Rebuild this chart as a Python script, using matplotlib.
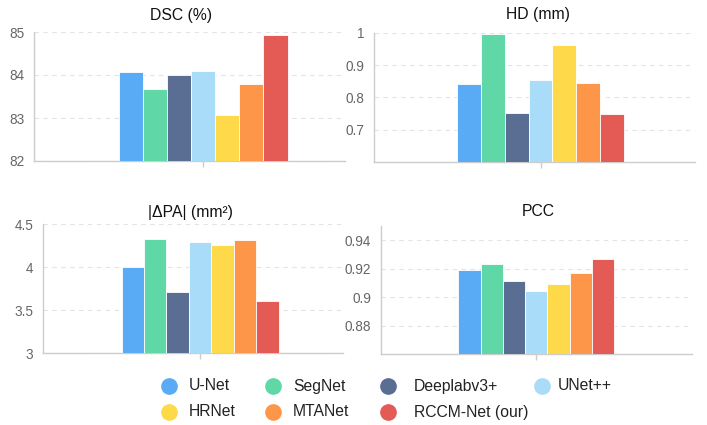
import matplotlib.pyplot as plt
from matplotlib.lines import Line2D

plt.rcParams['font.family'] = ['Liberation Sans', 'DejaVu Sans']

models = ['U-Net', 'SegNet', 'Deeplabv3+', 'UNet++', 'HRNet', 'MTANet', 'RCCM-Net (our)']
colors = ['#5aabf5', '#5fd7a7', '#5a6e94', '#a8dcf8', '#fed94a', '#fe964a', '#e45a54']

dsc = [84.06, 83.67, 83.99, 84.09, 83.07, 83.80, 84.93]
hd = [0.840, 0.998, 0.750, 0.854, 0.962, 0.845, 0.747]
dpa = [4.00, 4.33, 3.71, 4.29, 4.255, 4.315, 3.605]
pcc = [0.919, 0.923, 0.911, 0.904, 0.909, 0.917, 0.927]

titles = ['DSC (%)', 'HD (mm)', '|ΔPA| (mm²)', 'PCC']
ylims = [(82, 85), (0.6, 1.0), (3, 4.5), (0.86, 0.95)]
yticks = [[82, 83, 84, 85], [0.7, 0.8, 0.9, 1.0], [3, 3.5, 4, 4.5], [0.88, 0.9, 0.92, 0.94]]
yticklabels = [['82', '83', '84', '85'], ['0.7', '0.8', '0.9', '1'],
               ['3', '3.5', '4', '4.5'], ['0.88', '0.9', '0.92', '0.94']]
data = [dsc, hd, dpa, pcc]

W, H = 707, 425
# axes boxes in pixels: left, top, right, bottom
boxes = [(34, 32, 345, 161), (374, 33, 695, 161.7), (43, 224.3, 343, 353.3), (380.7, 226, 691.7, 354)]
xright = [0.84, 0.927, 0.91, 1.0]
title_pos = [(0.473, 1.13), (0.511, 1.14), (0.49, 1.093), (0.506, 1.117)]

fig = plt.figure(figsize=(W / 100, H / 100), dpi=100)

n = len(models)
bw = 1.0 / n
for i in range(4):
    l, t, r, b = boxes[i]
    ax = fig.add_axes([l / W, 1 - b / H, (r - l) / W, (b - t) / H])
    for j in range(n):
        x = -0.5 + bw * (j + 0.5)
        ax.bar(x, data[i][j] - ylims[i][0], bw, bottom=ylims[i][0], color=colors[j],
               edgecolor='white', linewidth=0.6, zorder=3)
    ax.set_xlim(-1, xright[i])
    ax.set_ylim(*ylims[i])
    ax.set_yticks(yticks[i])
    ax.set_yticklabels(yticklabels[i])
    ax.set_xticks([0])
    ax.set_xticklabels([''])
    ax.tick_params(axis='y', length=0, pad=7, labelsize=9.8, labelcolor='#666666')
    ax.tick_params(axis='x', length=4, color='#cccccc', width=1)
    for s in ['top', 'right']:
        ax.spines[s].set_visible(False)
    for s in ['left', 'bottom']:
        ax.spines[s].set_color('#cccccc')
        ax.spines[s].set_linewidth(1)
    ax.yaxis.grid(True, linestyle=(0, (4, 4)), color='#e4e4e4', linewidth=0.8, zorder=0)
    ax.set_axisbelow(True)
    ax.text(title_pos[i][0], title_pos[i][1], titles[i], transform=ax.transAxes,
            ha='center', va='center', fontsize=11.3, color='#111111')

# legend, laid out as in the original (two rows)
circ_x = [169, 273, 388, 542]
text_x = [189, 293, 414, 558]
row_y = [386, 412]
for k, name in enumerate(models):
    row, col = divmod(k, 4)
    fig.add_artist(Line2D([circ_x[col] / W], [1 - row_y[row] / H], marker='o', markersize=11,
                          color=colors[k], linestyle='none', transform=fig.transFigure))
    fig.text(text_x[col] / W, 1 - row_y[row] / H, name, ha='left', va='center',
             fontsize=11.3, color='#222222')

fig.savefig('out.png', dpi=100)
